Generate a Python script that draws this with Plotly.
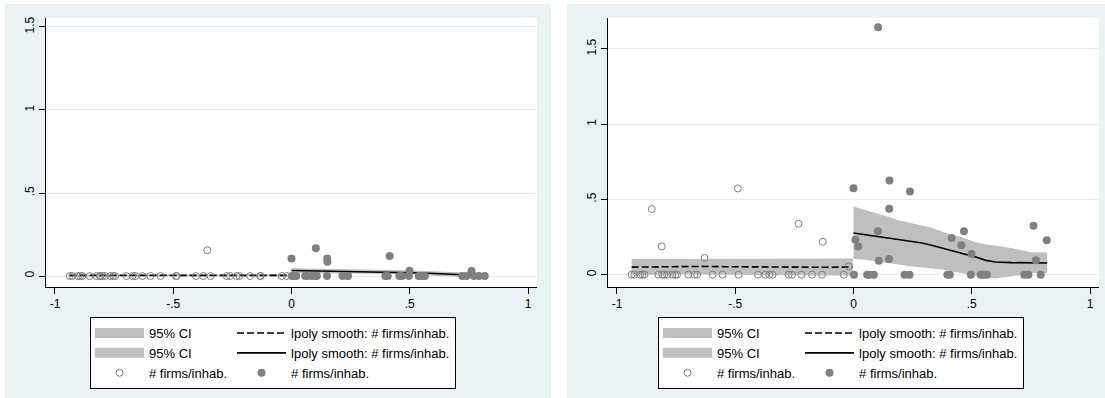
import plotly.graph_objects as go

# ---------------- data ----------------
# running variable, observations left of the cutoff (control)
x_left_obs = [-0.938, -0.927, -0.903, -0.893, -0.884, -0.853, -0.825, -0.811, -0.808,
              -0.800, -0.788, -0.766, -0.754, -0.746, -0.698, -0.672, -0.661, -0.630,
              -0.596, -0.554, -0.489, -0.486, -0.404, -0.373, -0.356, -0.342, -0.274,
              -0.260, -0.232, -0.220, -0.175, -0.133, -0.130, -0.041, -0.020]
# panel 1 outcome (# firms/inhab.), left of cutoff
y1_left_obs = [0, 0, 0, 0, 0, 0, 0, 0, 0,
               0, 0, 0, 0, 0, 0, 0, 0, 0,
               0, 0, 0, 0, 0, 0, 0.155, 0, 0,
               0, 0, 0, 0, 0, 0, 0, 0]
# panel 2 outcome (# firms/inhab.), left of cutoff
y2_left_obs = [0, 0, 0, 0, 0, 0.436, 0, 0.188, 0,
               0, 0, 0, 0, 0, 0, 0, 0, 0.111,
               0, 0, 0.573, 0, 0, 0, 0, 0, 0,
               0, 0.338, 0, 0, 0, 0.219, 0, 0.055]

# running variable, observations right of the cutoff (treated)
x_right_obs = [0.000, 0.002, 0.008, 0.020, 0.058, 0.068, 0.086, 0.103, 0.104, 0.107,
               0.150, 0.151, 0.152, 0.216, 0.237, 0.239, 0.397, 0.407, 0.415, 0.456,
               0.467, 0.496, 0.499, 0.538, 0.549, 0.564, 0.722, 0.740, 0.761, 0.771,
               0.792, 0.817]
y1_right_obs = [0.106, 0, 0, 0, 0, 0, 0, 0.167, 0, 0,
                0, 0.106, 0.086, 0, 0, 0, 0, 0, 0.120, 0,
                0, 0, 0.032, 0, 0, 0, 0, 0, 0.030, 0,
                0, 0]
y2_right_obs = [0.575, 0, 0.232, 0.188, 0, 0, 0, 0.288, 1.644, 0.093,
                0.104, 0.438, 0.626, 0, 0, 0.553, 0, 0, 0.243, 0.195,
                0.288, 0, 0.137, 0, 0, 0, 0, 0, 0.325, 0.095,
                0, 0.228]

# lpoly smooth evaluation grids
grid_left = [-0.938, -0.84, -0.74, -0.64, -0.54, -0.44, -0.34, -0.24, -0.14, -0.04, -0.003]
grid_right = [0.0, 0.05, 0.10, 0.15, 0.19, 0.24, 0.29, 0.33, 0.375, 0.42, 0.46,
              0.517, 0.56, 0.60, 0.67, 0.75, 0.819]

# panel 1 smooths and CIs
s1_left = [0.004, 0.004, 0.004, 0.004, 0.004, 0.004, 0.005, 0.004, 0.004, 0.004, 0.004]
s1_left_hi = [0.010, 0.009, 0.009, 0.009, 0.009, 0.009, 0.010, 0.009, 0.009, 0.010, 0.011]
s1_left_lo = [-0.002, -0.001, -0.001, -0.001, -0.001, -0.001, 0.000, -0.001, -0.001, -0.002, -0.003]
s1_right = [0.033, 0.032, 0.031, 0.030, 0.029, 0.028, 0.027, 0.026, 0.025, 0.024, 0.023,
            0.021, 0.018, 0.015, 0.010, 0.006, 0.005]
s1_right_hi = [0.047, 0.046, 0.044, 0.043, 0.042, 0.040, 0.039, 0.038, 0.037, 0.036, 0.035,
               0.033, 0.031, 0.028, 0.024, 0.020, 0.020]
s1_right_lo = [0.019, 0.018, 0.018, 0.017, 0.016, 0.016, 0.015, 0.014, 0.013, 0.012, 0.011,
               0.009, 0.005, 0.002, -0.004, -0.008, -0.010]

# panel 2 smooths and CIs
s2_left = [0.050, 0.052, 0.053, 0.055, 0.053, 0.051, 0.050, 0.050, 0.049, 0.050, 0.051]
s2_left_hi = [0.104, 0.104, 0.104, 0.106, 0.105, 0.104, 0.103, 0.104, 0.104, 0.106, 0.107]
s2_left_lo = [-0.004, -0.001, 0.002, 0.004, 0.001, -0.002, -0.003, -0.004, -0.006, -0.006, -0.005]
s2_right = [0.277, 0.266, 0.254, 0.243, 0.232, 0.221, 0.210, 0.195, 0.177, 0.160, 0.144,
            0.117, 0.095, 0.084, 0.080, 0.078, 0.078]
s2_right_hi = [0.453, 0.431, 0.409, 0.383, 0.362, 0.343, 0.327, 0.312, 0.286, 0.265, 0.247,
               0.215, 0.201, 0.194, 0.176, 0.149, 0.148]
s2_right_lo = [0.104, 0.099, 0.089, 0.076, 0.067, 0.056, 0.047, 0.041, 0.035, 0.024, 0.014,
               -0.008, -0.021, -0.026, -0.011, 0.010, 0.011]

x_tickvals = [-1, -0.5, 0, 0.5, 1]
x_ticktext = ["-1", "-.5", "0", ".5", "1"]
y_tickvals = [0, 0.5, 1, 1.5]
y_ticktext = ["0", ".5", "1", "1.5"]

ci_label = "95% CI"
smooth_label = "lpoly smooth: # firms/inhab."
scatter_label = "# firms/inhab."

# ---------------- style ----------------
W, H = 1105, 398
BG = "#EAF2F3"
GRID = "#E3ECEF"
CI_COL = "#BFBFBF"
MK_COL = "#808080"
FONT = "Liberation Sans, Arial, sans-serif"


def px_x(p):
    return p / W


def px_y(p):
    return 1 - p / H


fig = go.Figure()


def add_panel(ax, leg, g, xl, yl, xr, yr, sl, slh, sll, sr, srh, srl):
    xa, ya = ("x", "y") if ax == 1 else ("x2", "y2")
    ga, gb = "a" + g, "b" + g
    # legend keys for the two CI bands
    for _ in range(2):
        fig.add_trace(go.Scatter(
            x=[None], y=[None], mode="lines", line=dict(width=10, color=CI_COL),
            name=ci_label, legend=leg, legendgroup=ga, xaxis=xa, yaxis=ya))
    fig.add_trace(go.Scatter(
        x=grid_left + grid_left[::-1], y=slh + sll[::-1], fill="toself",
        fillcolor=CI_COL, mode="lines", line=dict(width=0, color=CI_COL),
        showlegend=False, legend=leg, legendgroup=ga, xaxis=xa, yaxis=ya))
    fig.add_trace(go.Scatter(
        x=grid_right + grid_right[::-1], y=srh + srl[::-1], fill="toself",
        fillcolor=CI_COL, mode="lines", line=dict(width=0, color=CI_COL),
        showlegend=False, legend=leg, legendgroup=ga, xaxis=xa, yaxis=ya))
    fig.add_trace(go.Scatter(
        x=grid_left, y=sl, mode="lines",
        line=dict(color="black", width=1.6, dash="7px,3px"),
        name=smooth_label, legend=leg, legendgroup=gb, xaxis=xa, yaxis=ya))
    fig.add_trace(go.Scatter(
        x=grid_right, y=sr, mode="lines",
        line=dict(color="black", width=1.6),
        name=smooth_label, legend=leg, legendgroup=gb, xaxis=xa, yaxis=ya))
    fig.add_trace(go.Scatter(
        x=xl, y=yl, mode="markers",
        marker=dict(symbol="circle-open", size=7, color=MK_COL, line=dict(width=1, color=MK_COL)),
        name=scatter_label, legend=leg, legendgroup=ga, xaxis=xa, yaxis=ya))
    fig.add_trace(go.Scatter(
        x=xr, y=yr, mode="markers",
        marker=dict(symbol="circle", size=8, color=MK_COL, line=dict(width=0)),
        name=scatter_label, legend=leg, legendgroup=gb, xaxis=xa, yaxis=ya))


add_panel(1, "legend", "1", x_left_obs, y1_left_obs, x_right_obs, y1_right_obs,
          s1_left, s1_left_hi, s1_left_lo, s1_right, s1_right_hi, s1_right_lo)
add_panel(2, "legend2", "2", x_left_obs, y2_left_obs, x_right_obs, y2_right_obs,
          s2_left, s2_left_hi, s2_left_lo, s2_right, s2_right_hi, s2_right_lo)

xaxis_common = dict(
    range=[-1.038, 1.038], tickvals=x_tickvals, ticktext=x_ticktext,
    showgrid=False, zeroline=False, showline=True, linecolor="black", linewidth=1,
    ticks="outside", ticklen=6, tickcolor="black", tickwidth=1,
    tickfont=dict(family=FONT, size=12, color="black"), fixedrange=True)
yaxis_common = dict(
    tickvals=y_tickvals, ticktext=y_ticktext, tickangle=-90,
    showgrid=True, gridcolor=GRID, gridwidth=1, zeroline=False,
    showline=True, linecolor="black", linewidth=1,
    ticks="outside", ticklen=6, tickcolor="black", tickwidth=1,
    tickfont=dict(family=FONT, size=12, color="black"), fixedrange=True)

legend_common = dict(
    orientation="h", bgcolor="white", bordercolor="black", borderwidth=1,
    font=dict(family=FONT, size=13, color="black"), itemwidth=49,
    xanchor="left", yanchor="top", traceorder="grouped", tracegroupgap=0,
    itemclick=False, itemdoubleclick=False)

fig.update_layout(
    width=W, height=H,
    margin=dict(l=0, r=0, t=0, b=0, autoexpand=False),
    paper_bgcolor=BG, plot_bgcolor="white",
    showlegend=True,
    xaxis=dict(domain=[px_x(46), px_x(537)], anchor="y", **xaxis_common),
    yaxis=dict(domain=[px_y(287), px_y(18)], anchor="x", range=[-0.066, 1.554], **yaxis_common),
    xaxis2=dict(domain=[px_x(608), px_x(1099)], anchor="y2", **xaxis_common),
    yaxis2=dict(domain=[px_y(287), px_y(18)], anchor="x2", range=[-0.082, 1.706], **yaxis_common),
    legend=dict(x=px_x(90), y=px_y(317), **legend_common),
    legend2=dict(x=px_x(658), y=px_y(317), **legend_common),
    shapes=[
        dict(type="rect", xref="paper", yref="paper", x0=0, x1=px_x(5), y0=0, y1=1,
             fillcolor="white", line=dict(width=0), layer="below"),
        dict(type="rect", xref="paper", yref="paper", x0=0, x1=1, y0=px_y(4), y1=1,
             fillcolor="white", line=dict(width=0), layer="below"),
        dict(type="rect", xref="paper", yref="paper", x0=px_x(551), x1=px_x(567), y0=0, y1=1,
             fillcolor="white", line=dict(width=0), layer="below"),
    ],
    hovermode=False,
)

fig.write_html("out.html")
